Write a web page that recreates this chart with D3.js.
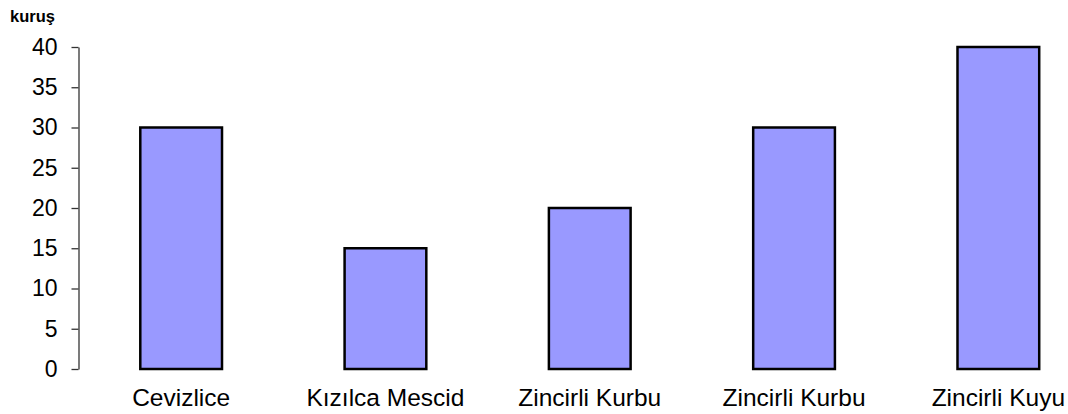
<!DOCTYPE html>
<html>
<head>
<meta charset="utf-8">
<script src="https://cdn.jsdelivr.net/npm/d3@7"></script>
<style>
  body { margin: 0; background: #fff; }
  text { font-family: "Liberation Sans", Arial, sans-serif; fill: #000; }
</style>
</head>
<body>
<div id="chart"></div>
<script>
// Chart data
var categories = ["Cevizlice", "Kızılca Mescid", "Zincirli Kurbu", "Zincirli Kurbu", "Zincirli Kuyu"];
var values = [30, 15, 20, 30, 40];
var yTicks = [0, 5, 10, 15, 20, 25, 30, 35, 40];
var unitLabel = "kuruş";

var svgWidth = 1068;
var svgHeight = 414;

var margin = { top: 47, left: 79, bottom: 45 };
var plotBottom = svgHeight - margin.bottom; // 369

var svg = d3.select("#chart")
  .append("svg")
  .attr("width", svgWidth)
  .attr("height", svgHeight);

// Scales (categories repeat, so index-based band scale)
var xScale = d3.scaleBand()
  .domain(d3.range(categories.length))
  .range([margin.left, 1100.5])
  .paddingInner(0.6)
  .paddingOuter(0.3);

var yScale = d3.scaleLinear()
  .domain([0, 40])
  .range([plotBottom, margin.top]);

// Y axis
var yAxis = d3.axisLeft(yScale)
  .tickValues(yTicks)
  .tickSize(7)
  .tickSizeOuter(0)
  .tickPadding(14);

var yAxisGroup = svg.append("g")
  .attr("transform", `translate(${margin.left - 0.5}, 0)`)
  .call(yAxis);

yAxisGroup.select(".domain")
  .attr("stroke", "#333")
  .attr("stroke-width", 1.3);
yAxisGroup.selectAll(".tick line")
  .attr("stroke", "#333")
  .attr("stroke-width", 1.3);
yAxisGroup.selectAll(".tick text")
  .attr("font-size", "23px")
  .attr("font-family", "'Liberation Sans', Arial, sans-serif")
  .attr("fill", "#000");

// Bars
svg.append("g")
  .selectAll("rect")
  .data(values)
  .enter()
  .append("rect")
  .attr("x", (d, i) => xScale(i))
  .attr("y", d => yScale(d))
  .attr("width", xScale.bandwidth())
  .attr("height", d => yScale(0) - yScale(d))
  .attr("fill", "#9999ff")
  .attr("stroke", "#000")
  .attr("stroke-width", 2.5);

// Category labels
svg.append("g")
  .selectAll("text")
  .data(categories)
  .enter()
  .append("text")
  .attr("x", (d, i) => xScale(i) + xScale.bandwidth() / 2)
  .attr("y", 406)
  .attr("text-anchor", "middle")
  .attr("font-size", "24.5px")
  .text(d => d);

// Unit label
svg.append("text")
  .attr("x", 10)
  .attr("y", 22)
  .attr("font-size", "16.5px")
  .attr("font-weight", "bold")
  .text(unitLabel);
</script>
</body>
</html>
